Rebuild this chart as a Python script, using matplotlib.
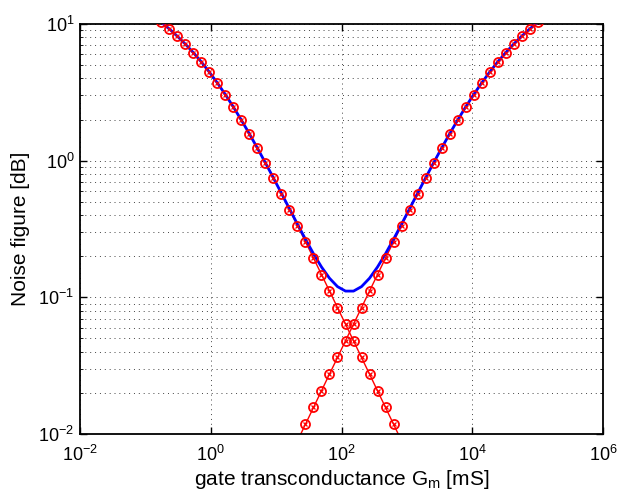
import numpy as np
import matplotlib
matplotlib.use("Agg")
import matplotlib.pyplot as plt
from matplotlib.ticker import NullLocator

plt.rcParams['font.family'] = ['Liberation Sans', 'DejaVu Sans']
plt.rcParams['mathtext.fontset'] = 'custom'
plt.rcParams['mathtext.rm'] = 'Liberation Sans'
plt.rcParams['mathtext.it'] = 'Liberation Sans'

# gate transconductance grid [mS], 50 points from 1e-1 to 1e5
gm = np.logspace(-1, 5, 50)

# falling branch
nf_fall = [12.55, 11.41, 10.28, 9.19, 8.13, 7.12, 6.16, 5.27, 4.44, 3.70,
           3.04, 2.467, 1.977, 1.569, 1.233, 0.961, 0.7437, 0.5719, 0.4386, 0.3348,
           0.2549, 0.1938, 0.1469, 0.1112, 0.0841, 0.0636, 0.0481, 0.0363, 0.02744, 0.02071,
           0.01563, 0.01180, 0.00890, 0.00672, 0.00507, 0.00382] + [np.nan] * 14

# rising branch
nf_rise = [np.nan] * 16 + [0.00382, 0.00507, 0.00672, 0.00890, 0.01180, 0.01563, 0.02071,
           0.02744, 0.0363, 0.0481, 0.0636, 0.0841, 0.1112, 0.1469, 0.1938, 0.2549,
           0.3348, 0.4386, 0.5719, 0.7437, 0.961, 1.233, 1.569, 1.977, 2.467, 3.04,
           3.70, 4.44, 5.27, 6.16, 7.12, 8.13, 9.19, 10.28]

# total noise figure (blue)
nf_total = [12.55, 11.41, 10.28, 9.19, 8.13, 7.12, 6.16, 5.27, 4.44, 3.70,
            3.04, 2.467, 1.977, 1.570, 1.234, 0.963, 0.7469, 0.5768, 0.4447, 0.3429,
            0.2661, 0.2085, 0.1668, 0.1380, 0.1198, 0.1111, 0.1111, 0.1198, 0.1380, 0.1668,
            0.2085, 0.2661, 0.3429, 0.4447, 0.5768, 0.7469, 0.963, 1.234, 1.570, 1.977,
            2.467, 3.04, 3.70, 4.44, 5.27, 6.16, 7.12, 8.13, 9.19, 10.28]

fig = plt.figure(figsize=(6.17, 4.96), dpi=100)
ax = fig.add_axes([80/617, 1 - 434/496, 523/617, 410/496])

ax.plot(gm, nf_fall, color='red', lw=1.0, zorder=2)
ax.plot(gm, nf_rise, color='red', lw=1.0, zorder=2)
ax.plot(gm, nf_total, color='blue', lw=2.0, zorder=3)
for nf in (nf_fall, nf_rise):
    ax.plot(gm, nf, ls='none', marker='o', ms=6.5, mfc='none', mec='red', mew=1.3, zorder=4)
    ax.plot(gm, nf, ls='none', marker='x', ms=3.5, mec='red', mew=0.9, zorder=4)

ax.set_xscale('log')
ax.set_yscale('log')
ax.set_xlim(1e-2, 1e6)
ax.set_ylim(1e-2, 1e1)
ax.set_xticks([1e-2, 1e0, 1e2, 1e4, 1e6])
ax.set_yticks([1e-2, 1e-1, 1e0, 1e1])
ax.xaxis.set_minor_locator(NullLocator())

ax.grid(True, which='major', color='#444444', ls=(0, (1, 4)), lw=0.7)
ax.grid(True, which='minor', axis='y', color='#444444', ls=(0, (1, 4)), lw=0.7)
ax.tick_params(which='both', direction='in', top=True, right=True, labelsize=13)
ax.tick_params(which='major', length=5, width=1)
ax.tick_params(which='minor', length=2.5, width=0.6)
ax.tick_params(axis='x', pad=8)
ax.tick_params(axis='y', pad=4)
for s in ax.spines.values():
    s.set_linewidth(1.3)

ax.set_xlabel('gate transconductance G$_\\mathrm{m}$ [mS]', fontsize=15, labelpad=2)
ax.set_ylabel('Noise figure [dB]', fontsize=15, labelpad=6)

fig.savefig('out.png', dpi=100)
